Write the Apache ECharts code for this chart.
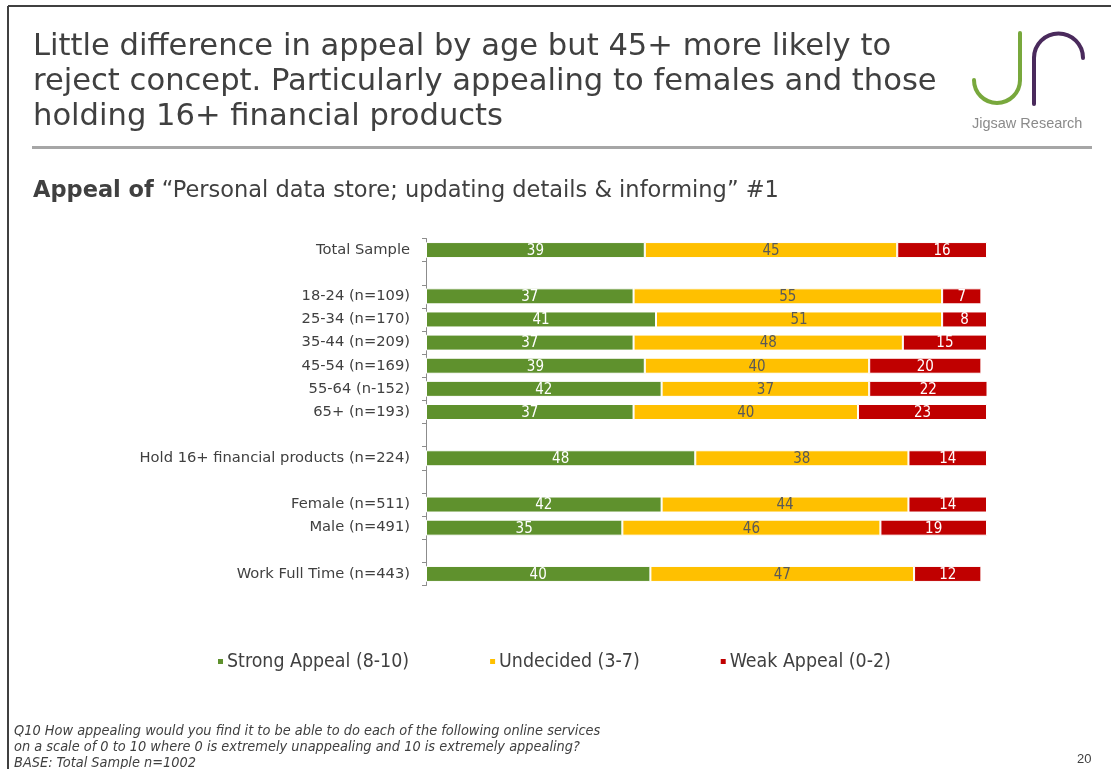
<!DOCTYPE html>
<html>
<head>
<meta charset="utf-8">
<script src="https://cdn.jsdelivr.net/npm/echarts@6/dist/echarts.min.js"></script>
<style>
  html, body { margin: 0; padding: 0; background: #fff; }
  #chart { width: 1111px; height: 769px; }
</style>
</head>
<body>
<div id="chart"></div>
<script>
// Segments of the appeal question, top to bottom ('' rows are spacers)
const categories = [
  'Total Sample', '',
  '18-24 (n=109)', '25-34 (n=170)', '35-44 (n=209)', '45-54 (n=169)', '55-64 (n-152)', '65+ (n=193)', '',
  'Hold 16+ financial products (n=224)', '',
  'Female (n=511)', 'Male (n=491)', '',
  'Work Full Time (n=443)'
];
// Percentages per segment
const strongAppeal = [39, null, 37, 41, 37, 39, 42, 37, null, 48, null, 42, 35, null, 40];
const undecided    = [45, null, 55, 51, 48, 40, 37, 40, null, 38, null, 44, 46, null, 47];
const weakAppeal   = [16, null,  7,  8, 15, 20, 22, 23, null, 14, null, 14, 19, null, 12];
const seriesNames = ['Strong Appeal (8-10)', 'Undecided (3-7)', 'Weak Appeal (0-2)'];

const titleLines = [
  'Little difference in appeal by age but 45+ more likely to',
  'reject concept. Particularly appealing to females and those',
  'holding 16+ financial products'
];
const footnotes = [
  'Q10 How appealing would you find it to be able to do each of the following online services',
  'on a scale of 0 to 10 where 0 is extremely unappealing and 10 is extremely appealing?',
  'BASE: Total Sample n=1002'
];

const GREEN = '#5f912d', YELLOW = '#ffc000', RED = '#c00000';
const TEXT = '#404040';
const SANS = 'DejaVu Sans';
const COND = '"DejaVu Sans Condensed", "DejaVu Sans", sans-serif';

const chart = echarts.init(document.getElementById('chart'), null, { renderer: 'canvas' });

function barSeries(name, data, color, labelColor) {
  return {
    name: name,
    type: 'bar',
    stack: 'appeal',
    data: data,
    barWidth: 16,
    itemStyle: { color: color, borderColor: '#ffffff', borderWidth: 1 },
    label: {
      show: true,
      position: 'inside',
      offset: [0, 1],
      color: labelColor,
      fontFamily: COND,
      fontSize: 15,
      formatter: p => (p.value == null ? '' : String(p.value))
    },
    emphasis: { disabled: true }
  };
}

const option = {
  animation: false,
  backgroundColor: '#ffffff',
  grid: { left: 426, right: 124, top: 238.5, height: 347, containLabel: false },
  xAxis: {
    type: 'value', min: 0, max: 100, show: false
  },
  yAxis: {
    type: 'category',
    inverse: true,
    data: categories,
    axisLine: { show: true, lineStyle: { color: '#8c8c8c', width: 1 } },
    axisTick: { show: true, length: 4, inside: false, lineStyle: { color: '#8c8c8c' } },
    axisLabel: { color: TEXT, fontFamily: SANS, fontSize: 14.7, margin: 16 }
  },
  legend: {
    data: seriesNames,
    left: 211, top: 647,
    icon: 'rect', itemWidth: 7, itemHeight: 7, itemGap: 79,
    textStyle: { color: TEXT, fontFamily: COND, fontSize: 19.4, padding: [0, 0, 0, -2] }
  },
  series: [
    barSeries(seriesNames[0], strongAppeal, GREEN, '#ffffff'),
    barSeries(seriesNames[1], undecided, YELLOW, '#595959'),
    barSeries(seriesNames[2], weakAppeal, RED, '#ffffff')
  ],
  graphic: [
    // slide frame
    { type: 'line', shape: { x1: 8, y1: 6, x2: 1111, y2: 6 }, style: { stroke: '#404040', lineWidth: 2 } },
    { type: 'line', shape: { x1: 8, y1: 6, x2: 8, y2: 769 }, style: { stroke: '#404040', lineWidth: 2 } },
    // headline
    ...titleLines.map((t, i) => ({
      type: 'text', left: 33, top: 32 + i * 35,
      style: { text: t, fill: TEXT, font: '30.6px "DejaVu Sans"' }
    })),
    // rule under the headline
    { type: 'rect', shape: { x: 32, y: 146, width: 1060, height: 3 }, style: { fill: '#a6a6a6' } },
    // chart heading
    {
      type: 'text', left: 33, top: 180,
      style: {
        text: '{b|Appeal of }{n|“Personal data store; updating details & informing” #1}',
        rich: {
          b: { fill: TEXT, fontFamily: SANS, fontSize: 22.5, fontWeight: 'bold' },
          n: { fill: TEXT, fontFamily: SANS, fontSize: 22.5 }
        }
      }
    },
    // logo: green J
    { type: 'line', shape: { x1: 1020, y1: 33, x2: 1020, y2: 80 }, style: { stroke: '#78a83c', lineWidth: 4, lineCap: 'round' } },
    { type: 'arc', shape: { cx: 997, cy: 80, r: 23, startAngle: 0, endAngle: Math.PI, clockwise: true }, style: { stroke: '#78a83c', lineWidth: 4, fill: null, lineCap: 'round' } },
    // logo: purple r
    { type: 'line', shape: { x1: 1034, y1: 104, x2: 1034, y2: 58 }, style: { stroke: '#4a2a5c', lineWidth: 4, lineCap: 'round' } },
    { type: 'arc', shape: { cx: 1058.5, cy: 58, r: 24.5, startAngle: Math.PI, endAngle: Math.PI * 2, clockwise: true }, style: { stroke: '#4a2a5c', lineWidth: 4, fill: null, lineCap: 'round' } },
    {
      type: 'text', left: 972, top: 116,
      style: { text: 'Jigsaw Research', fill: '#8a8a8a', font: '14.5px "Liberation Sans"' }
    },
    // footnotes
    ...footnotes.map((t, i) => ({
      type: 'text', left: 14, top: 724 + i * 16,
      style: { text: t, fill: TEXT, font: 'italic 14.4px "DejaVu Sans Condensed", "DejaVu Sans"' }
    })),
    {
      type: 'text', left: 1077, top: 753,
      style: { text: '20', fill: TEXT, font: '13px "Liberation Sans"' }
    }
  ]
};

chart.setOption(option);
</script>
</body>
</html>
